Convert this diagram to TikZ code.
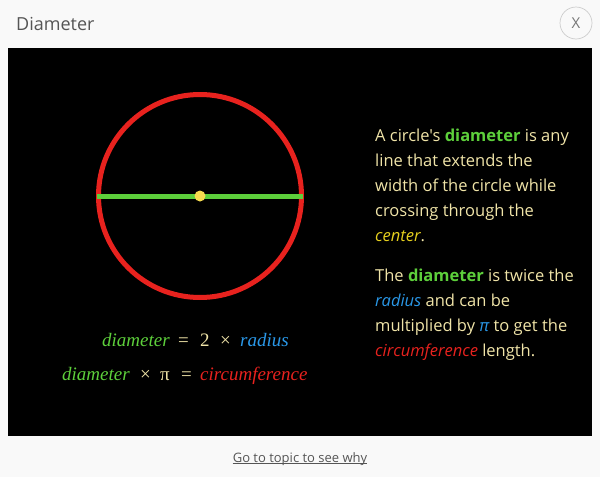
\documentclass[tikz,border=0pt]{standalone}
\usepackage{fontspec}
\setmainfont{Open Sans}
\newfontfamily\osans{Open Sans}
\newfontfamily\formfont{Liberation Serif}
\definecolor{pagebg}{HTML}{F9F9F9}
\definecolor{titlegray}{HTML}{555555}
\definecolor{pale}{HTML}{F0E4A8}
\definecolor{grn}{HTML}{5DCF3B}
\definecolor{blu}{HTML}{2A98E8}
\definecolor{rd}{HTML}{E8221E}
\definecolor{ylw}{HTML}{E6D01E}
\definecolor{dotc}{HTML}{F7DC4F}
\tikzset{
  txt/.style={inner sep=0pt, anchor=base west, text=pale, font=\osans\fontsize{16.5}{25}\selectfont},
  frm/.style={inner sep=0pt, anchor=base west, text=pale, font=\formfont\fontsize{19}{22}\selectfont},
}
\begin{document}
\begin{tikzpicture}[x=1pt,y=-1pt]
\fill[pagebg] (0,0) rectangle (600,477);
\useasboundingbox (0,0) rectangle (600,477);
\fill[black] (8,48) rectangle (592,436);
% title bar
\node[inner sep=0pt, anchor=base west, text=titlegray, font=\fontsize{18}{20}\selectfont] (title) at (16,30) {Diameter};
\node[draw=black!20, line width=0.7pt, circle, minimum size=32pt, inner sep=0pt, text=titlegray!80, font=\fontsize{15}{16}\selectfont] (close) at (576,23) {X};
% circle
\draw[rd, line width=5pt] (200,196) circle[radius=101.5];
\coordinate (dl) at (97,196);
\coordinate (dr) at (303,196);
\draw[grn, line width=5pt] (dl) -- (dr);
\fill[dotc] (200,196) circle[radius=5.5];
% formulas
\node[frm, text=grn] (f1a) at (102,346) {\itshape diameter};
\node[frm] (f1b) at (178,346) {=};
\node[frm] (f1c) at (200,346) {2};
\node[frm] (f1d) at (220,346) {×};
\node[frm, text=blu] (f1e) at (240,346) {\itshape radius};
\node[frm, text=grn] (f2a) at (62,380) {\itshape diameter};
\node[frm] (f2b) at (140,380) {×};
\node[frm] (f2c) at (160,380) {π};
\node[frm] (f2d) at (181,380) {=};
\node[frm, text=rd] (f2e) at (200,380) {\itshape circumference};
% paragraph text
\node[txt] (p1) at (375,141) {A circle's \textcolor{grn}{\bfseries diameter} is any};
\node[txt] (p2) at (375,166) {line that extends the};
\node[txt] (p3) at (375,191) {width of the circle while};
\node[txt] (p4) at (375,216) {crossing through the};
\node[txt] (p5) at (375,241) {\textcolor{ylw}{\itshape center}.};
\node[txt] (q1) at (375,281) {The \textcolor{grn}{\bfseries diameter} is twice the};
\node[txt] (q2) at (375,306) {\textcolor{blu}{\itshape radius} and can be};
\node[txt] (q3) at (375,331) {multiplied by \textcolor{blu}{\itshape π} to get the};
\node[txt] (q4) at (375,356) {\textcolor{rd}{\itshape circumference} length.};
% link
\node[inner sep=0pt, anchor=base, text=titlegray, font=\fontsize{13}{15}\selectfont] (link) at (300,462) {Go to topic to see why};
\draw[titlegray, line width=0.7pt] ([yshift=-1.8pt]link.base west) -- ([yshift=-1.8pt]link.base east);
\end{tikzpicture}
\end{document}
